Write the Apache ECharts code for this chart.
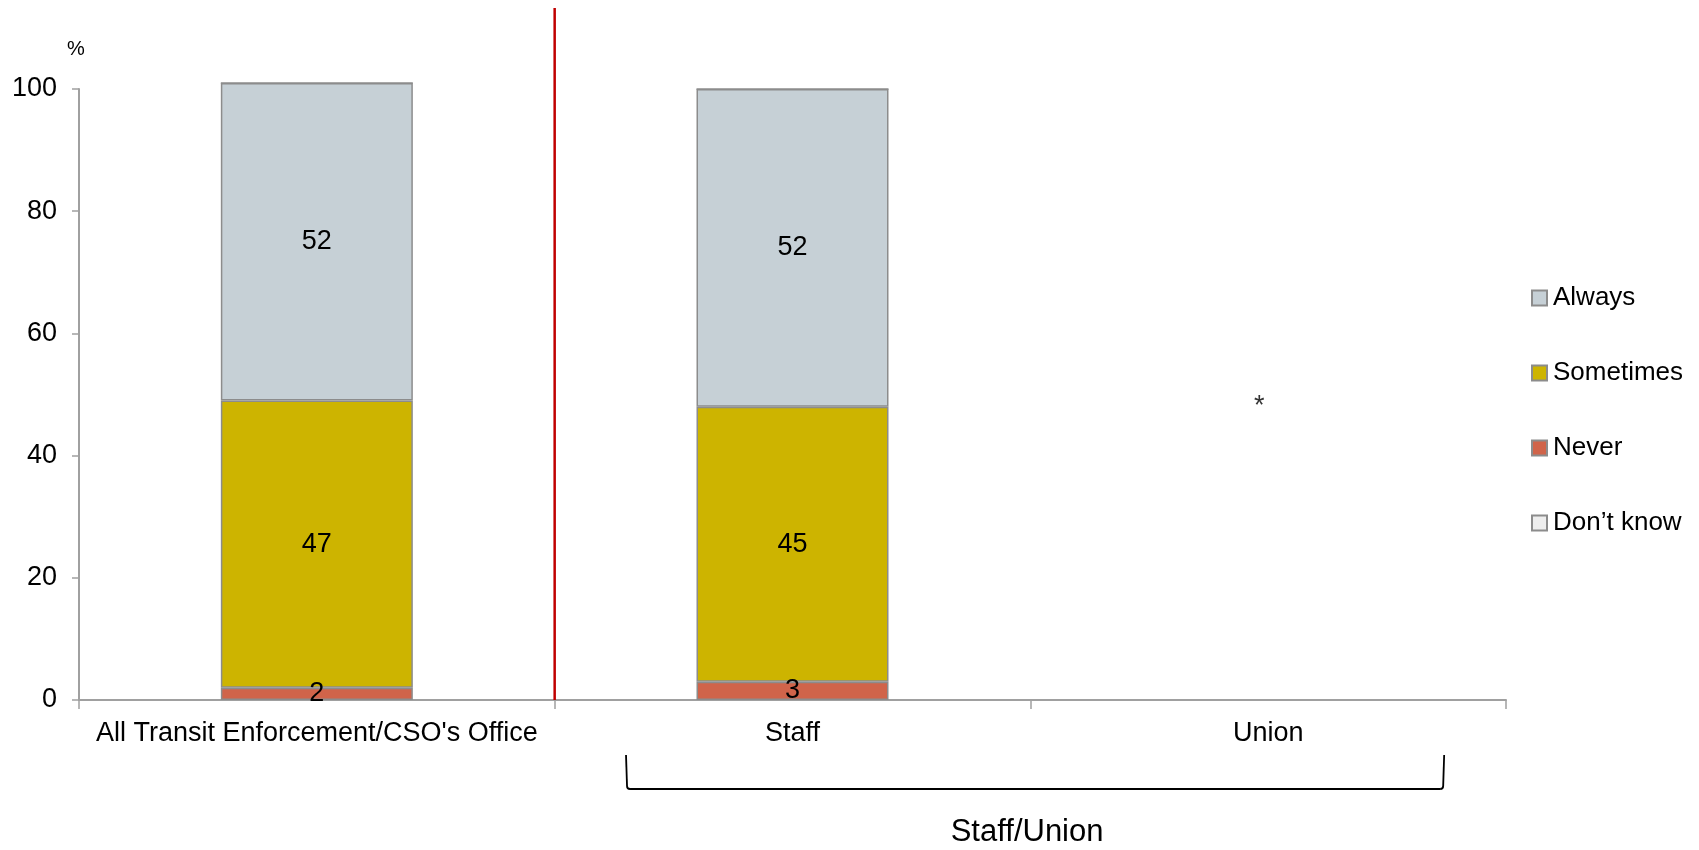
<!DOCTYPE html>
<html lang="en">
<head>
    <meta charset="UTF-8">
    <title>Chart</title>
    <script src="https://cdn.jsdelivr.net/npm/echarts@6/dist/echarts.min.js"></script>
    <style>
        html, body { margin: 0; padding: 0; background: #fff; }
        #main { width: 1699px; height: 850px; }
    </style>
</head>
<body>
    <div id="main"></div>
    <script>
// data
var categories = ['All Transit Enforcement/CSO\'s Office', 'Staff', 'Union'];
var always    = [52, 52, null];
var sometimes = [47, 45, null];
var never     = [2, 3, null];
var dontKnow  = [0, 0, null];
var starMark  = [null, null, 48];   // "*" shown for Union (base too small)
var groupLabel = 'Staff/Union';

var FONT = 'Liberation Sans, Arial, sans-serif';
var border = '#8c8c8c';

function segLabel(p) {
    return p.value ? String(p.value) : '';
}

function barSeries(name, data, color) {
    return {
        name: name,
        type: 'bar',
        stack: 'total',
        data: data,
        barWidth: 192,
        clip: false,
        itemStyle: { color: color, borderColor: border, borderWidth: 1.5 },
        label: {
            show: true,
            position: 'inside',
            formatter: segLabel,
            color: '#000',
            fontSize: 27,
            fontFamily: FONT
        },
        emphasis: { disabled: true }
    };
}

var myChart = echarts.init(document.getElementById('main'));

myChart.setOption({
    animation: false,
    textStyle: { fontFamily: FONT },
    grid: { left: 79, right: 193, top: 89, bottom: 150 },
    legend: {
        orient: 'vertical',
        left: 1526,
        top: 280,
        icon: 'rect',
        itemWidth: 15,
        itemHeight: 15,
        itemGap: 49,
        data: ['Always', 'Sometimes', 'Never', 'Don\u2019t know'],
        textStyle: { fontSize: 26, color: '#000', fontFamily: FONT, padding: [0, 0, 0, 1] },
        itemStyle: { borderColor: border, borderWidth: 2 }
    },
    xAxis: {
        type: 'category',
        data: categories,
        axisLine: { lineStyle: { color: '#a0a0a0', width: 2 } },
        axisTick: { show: true, length: 9, lineStyle: { color: '#a0a0a0', width: 1.5 } },
        axisLabel: { interval: 0, color: '#000', fontSize: 27, margin: 20, fontFamily: FONT }
    },
    yAxis: {
        type: 'value',
        min: 0,
        max: 100,
        interval: 20,
        name: '%',
        nameLocation: 'end',
        nameGap: 30,
        nameTextStyle: { color: '#000', fontSize: 20, align: 'center', padding: [0, 6, 0, 0] },
        axisLine: { show: true, lineStyle: { color: '#a0a0a0', width: 2 } },
        axisTick: { show: true, length: 7, lineStyle: { color: '#a0a0a0', width: 1.5 } },
        splitLine: { show: false },
        axisLabel: { color: '#000', fontSize: 27, margin: 22, fontFamily: FONT }
    },
    series: [
        barSeries('Never', never, '#d0644a'),
        barSeries('Sometimes', sometimes, '#cdb400'),
        barSeries('Always', always, '#c6d0d6'),
        barSeries('Don\u2019t know', dontKnow, '#eeeeee'),
        {
            name: 'note',
            type: 'scatter',
            data: starMark,
            symbolSize: 1,
            itemStyle: { color: 'rgba(0,0,0,0)' },
            label: {
                show: true,
                position: 'inside',
                offset: [-9, 0],
                formatter: '*',
                color: '#000',
                fontSize: 27,
                fontFamily: FONT
            },
            emphasis: { disabled: true }
        }
    ]
});

// separator line and group bracket, placed from the axis scale
var p0 = myChart.convertToPixel({ xAxisIndex: 0, yAxisIndex: 0 }, [0, 0]);
var p1 = myChart.convertToPixel({ xAxisIndex: 0, yAxisIndex: 0 }, [1, 0]);
var p2 = myChart.convertToPixel({ xAxisIndex: 0, yAxisIndex: 0 }, [2, 0]);
var bw = p1[0] - p0[0];
var sepX = (p0[0] + p1[0]) / 2;
var axisY = p0[1];

var bl = p1[0] - 0.35 * bw, br = p2[0] + 0.37 * bw;
var bt = axisY + 55, bb = axisY + 89, r = 3;
var brStyle = { stroke: '#000', lineWidth: 1.8, fill: null };

myChart.setOption({
    graphic: [
        {
            type: 'line',
            shape: { x1: sepX, y1: 8, x2: sepX, y2: axisY },
            style: { stroke: '#c00000', lineWidth: 2.5 },
            z: 10
        },
        {
            type: 'line',
            shape: { x1: bl, y1: bt, x2: bl + 1, y2: bb - r },
            style: brStyle
        },
        {
            type: 'bezierCurve',
            shape: { x1: bl + 1, y1: bb - r, cpx1: bl + 1, cpy1: bb, x2: bl + 1 + r, y2: bb },
            style: brStyle
        },
        {
            type: 'line',
            shape: { x1: bl + 1 + r, y1: bb, x2: br - 1 - r, y2: bb },
            style: brStyle
        },
        {
            type: 'bezierCurve',
            shape: { x1: br - 1 - r, y1: bb, cpx1: br - 1, cpy1: bb, x2: br - 1, y2: bb - r },
            style: brStyle
        },
        {
            type: 'line',
            shape: { x1: br - 1, y1: bb - r, x2: br, y2: bt },
            style: brStyle
        },
        {
            type: 'text',
            x: (bl + br) / 2 - 8,
            y: bb + 43,
            style: {
                text: groupLabel,
                fill: '#000',
                font: '31px ' + FONT,
                textAlign: 'center',
                textVerticalAlign: 'middle'
            }
        }
    ]
});
    </script>
</body>
</html>
